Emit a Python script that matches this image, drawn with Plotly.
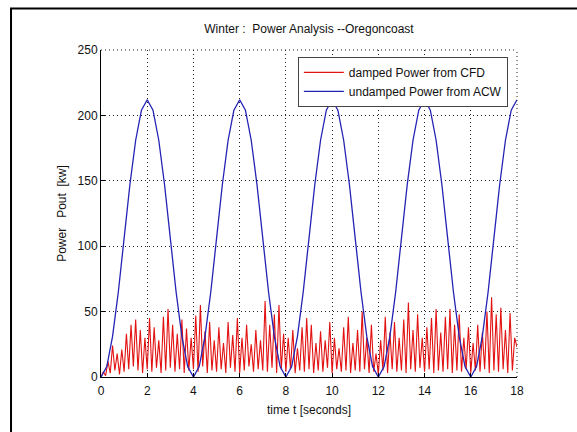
import numpy as np
import plotly.graph_objects as go

# Undamped power from ACW, sampled every 0.25 s (kW)
acw_t = np.round(np.arange(0, 18.001, 0.25), 2)
acw_power = [
    0, 8, 31, 65, 106, 147, 181, 204, 212, 204, 181, 147, 106, 65, 31, 8,
    0, 8, 31, 65, 106, 147, 181, 204, 212, 204, 181, 147, 106, 65, 31, 8,
    0, 8, 31, 65, 106, 147, 181, 204, 212, 204, 181, 147, 106, 65, 31, 8,
    0, 8, 31, 65, 106, 147, 181, 204, 212, 204, 181, 147, 106, 65, 31, 8,
    0, 8, 31, 65, 106, 147, 181, 204, 212,
]

# Damped power from CFD, sampled every 0.1 s (kW)
cfd_t = np.round(np.arange(0, 18.001, 0.1), 1)
cfd_power = [
    0, 4, 1, 12, 3, 24, 5, 18, 2, 21,
    4, 33, 6, 40, 8, 44, 5, 36, 3, 30,
    6, 45, 4, 38, 7, 28, 3, 46, 5, 52,
    7, 40, 4, 33, 6, 44, 3, 37, 5, 30,
    6, 47, 4, 55, 8, 35, 3, 42, 5, 28,
    4, 38, 6, 26, 3, 42, 7, 32, 4, 45,
    3, 30, 5, 40, 8, 25, 4, 36, 6, 28,
    5, 58, 4, 40, 7, 48, 3, 55, 6, 33,
    4, 30, 6, 36, 3, 22, 5, 38, 4, 45,
    6, 40, 3, 26, 5, 35, 4, 28, 7, 42,
    3, 30, 6, 22, 4, 38, 5, 46, 3, 26,
    5, 36, 4, 50, 6, 30, 3, 40, 4, 18,
    2, 28, 5, 46, 3, 34, 6, 42, 4, 30,
    5, 44, 3, 57, 6, 36, 4, 48, 7, 30,
    4, 38, 6, 45, 3, 52, 5, 34, 4, 46,
    6, 52, 3, 40, 5, 48, 4, 30, 6, 38,
    3, 26, 5, 40, 4, 34, 6, 50, 3, 61,
    5, 48, 4, 53, 6, 36, 3, 49, 5, 30,
    23,
]

x_ticks = list(range(0, 19, 2))
y_ticks = [0, 50, 100, 150, 200, 250]

FONT = "Liberation Sans, Arial, Helvetica, sans-serif"
NB = "\u00a0"
GRID_DASH = "1px,3px"

fig = go.Figure()
fig.add_trace(go.Scatter(
    x=cfd_t, y=cfd_power, mode="lines", name="damped Power from CFD",
    line=dict(color="#e31212", width=1.1),
))
fig.add_trace(go.Scatter(
    x=acw_t, y=acw_power, mode="lines", name="undamped Power from ACW",
    line=dict(color="#2323b4", width=1.3),
))

axis_common = dict(
    showgrid=True, gridcolor="#222", griddash=GRID_DASH, gridwidth=1,
    showline=True, linecolor="black", linewidth=1, mirror=False,
    ticks="inside", ticklen=4, tickcolor="black", zeroline=False,
    tickfont=dict(family=FONT, size=12, color="#111"),
)
fig.update_xaxes(
    range=[0, 18], tickvals=x_ticks, ticktext=[str(v) for v in x_ticks],
    ticklabelstandoff=3,
    title=dict(text="time t [seconds]", font=dict(family=FONT, size=12, color="#111"), standoff=8),
    **axis_common,
)
fig.update_yaxes(
    range=[0, 250], tickvals=y_ticks, ticktext=[str(v) for v in y_ticks],
    title=dict(text=f"Power{NB*3}Pout{NB*2}[kw]", font=dict(family=FONT, size=12, color="#111"), standoff=8),
    **axis_common,
)

fig.update_layout(
    width=577, height=432,
    margin=dict(l=101, r=60, t=50, b=55, autoexpand=False),
    paper_bgcolor="white", plot_bgcolor="white",
    title=dict(
        text=f"Winter :{NB*2}Power Analysis --Oregoncoast",
        font=dict(family=FONT, size=12, color="#111"),
        x=(101 + 517) / 2 / 577, xanchor="center", y=1 - 29 / 432, yanchor="middle",
    ),
    legend=dict(
        x=0.978, y=0.979, xanchor="right", yanchor="top",
        bgcolor="white", bordercolor="#444", borderwidth=1,
        font=dict(family=FONT, size=12, color="#111"),
        traceorder="normal", itemwidth=40,
    ),
    showlegend=True,
    shapes=[
        # dotted top and right edges of the axes box
        dict(type="line", xref="paper", yref="paper", x0=0, x1=1, y0=1, y1=1,
             line=dict(color="#222", width=1, dash=GRID_DASH), layer="below"),
        dict(type="line", xref="paper", yref="paper", x0=1, x1=1, y0=0, y1=1,
             line=dict(color="#222", width=1, dash=GRID_DASH), layer="below"),
        # outer figure frame
        dict(type="rect", xref="paper", yref="paper",
             x0=-0.2163, x1=1.3, y0=-0.3, y1=1.1269,
             line=dict(color="black", width=2), fillcolor="rgba(0,0,0,0)", layer="above"),
    ],
)

fig.write_html("out.html")
